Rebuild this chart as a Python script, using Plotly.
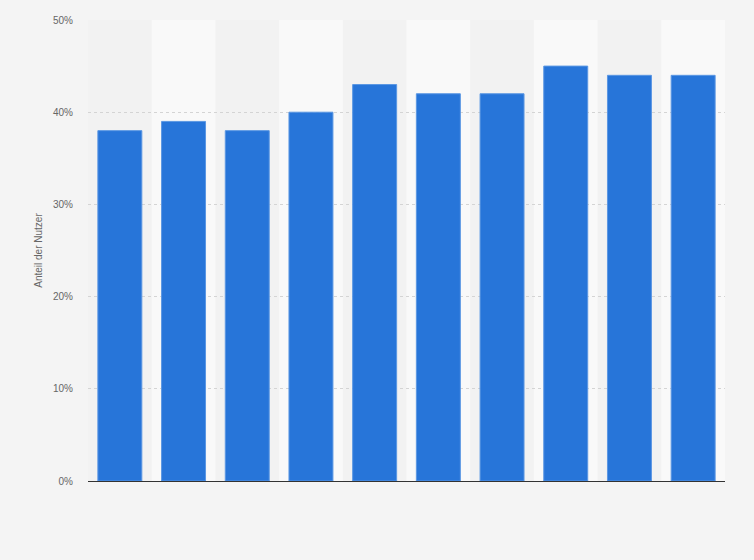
import plotly.graph_objects as go

# values (share of users, percent)
categories = ["1", "2", "3", "4", "5", "6", "7", "8", "9", "10"]
share_values = [38, 39, 38, 40, 43, 42, 42, 45, 44, 44]
y_tick_values = [0, 10, 20, 30, 40, 50]
y_tick_labels = ["0%", "10%", "20%", "30%", "40%", "50%"]
y_title = "Anteil der Nutzer"

bar_color = "#2775d9"
page_bg = "#f4f4f4"
band_color = "#f9f9f9"

fig = go.Figure()
fig.add_trace(go.Bar(
    x=categories,
    y=share_values,
    marker=dict(color=bar_color, line=dict(color="#5b97e3", width=1)),
    hoverinfo="y",
))

# alternating lighter column bands behind every second bar
for i in range(1, len(categories), 2):
    fig.add_shape(
        type="rect", xref="x", yref="paper",
        x0=i - 0.5, x1=i + 0.5, y0=0, y1=1,
        fillcolor=band_color, line=dict(width=0), layer="below",
    )

fig.update_layout(
    width=754, height=560,
    margin=dict(l=88, r=29, t=20, b=79),
    paper_bgcolor=page_bg,
    plot_bgcolor="#f2f2f2",
    bargap=0.31,
    showlegend=False,
    font=dict(family="Liberation Sans, Arial, sans-serif", size=10, color="#666666"),
)
fig.update_xaxes(
    showticklabels=False, showgrid=False, ticks="",
    showline=True, linecolor="#333333", linewidth=1,
    range=[-0.5, len(categories) - 0.5],
)
fig.update_yaxes(
    range=[0, 50],
    tickmode="array", tickvals=y_tick_values, ticktext=y_tick_labels,
    showgrid=True, gridcolor="#d4d4d4", griddash="dot", gridwidth=1,
    zeroline=False, ticks="", ticklabelstandoff=14,
    title=dict(text=y_title, standoff=8, font=dict(size=10, color="#666666")),
)

# drop the default page margin so the figure sits at the window corner
fig.write_html(
    "out.html",
    config={"displayModeBar": False},
    post_script="document.body.style.margin='0';document.body.style.background='#f4f4f4';",
)
